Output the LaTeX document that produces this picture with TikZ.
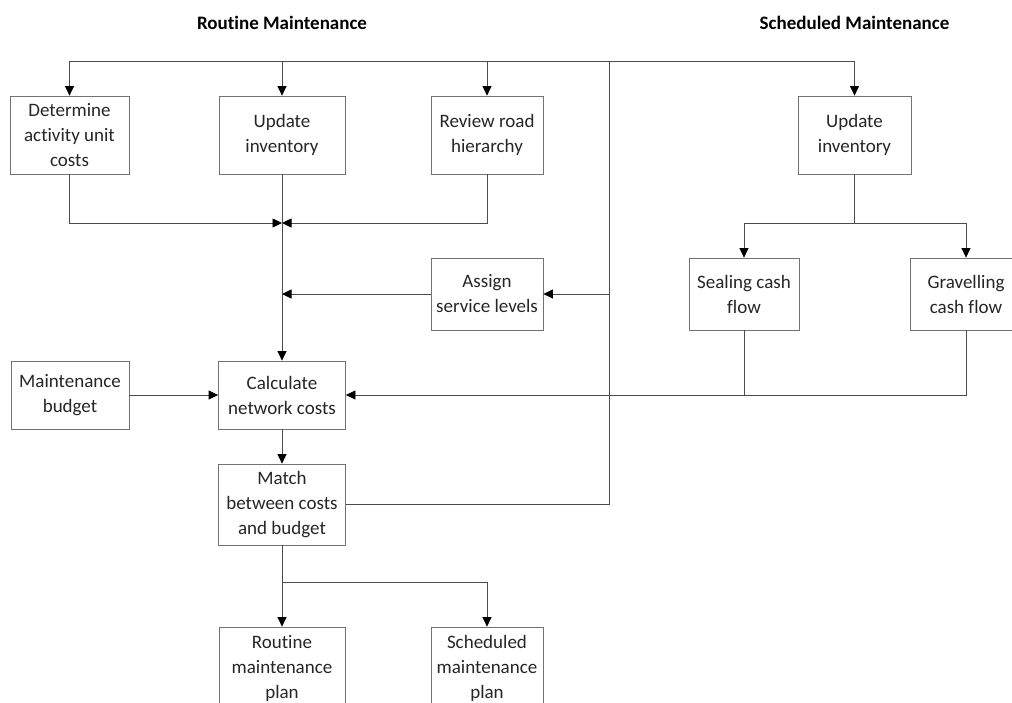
\documentclass[tikz,border=0pt]{standalone}
\usepackage{fontspec}
\setmainfont{Carlito}[Ligatures={TeX,NoCommon}]
\usetikzlibrary{arrows.meta, positioning}

\begin{document}
\begin{tikzpicture}[
        x = 1pt, y = -1pt,
        on grid,
        >= {Triangle[length = 9.5pt, width = 9pt, color = black]},
        box/.style = {draw = black!55, line width = 0.8pt, fill = white, align = center, inner sep = 2pt,
                      text = black!85, font = \fontsize{19}{25}\selectfont},
        title/.style = {font = \fontsize{19}{25}\selectfont\bfseries},
        flow/.style = {draw = black!70, line width = 0.8pt}
    ]
    \clip (0,0) rectangle (1012,702);

    % routine side, top row
    \node[box, minimum width = 119pt, minimum height = 78pt] (det) at (69.5,135) {Determine\\activity unit\\costs};
    \node[box, minimum width = 126pt, minimum height = 78pt] (upd) [right = 212.5pt of det] {Update\\inventory};
    \node[box, minimum width = 112pt, minimum height = 78pt] (rev) [right = 205pt of upd] {Review road\\hierarchy};
    \node[box, minimum width = 113pt, minimum height = 78pt] (supd) [right = 367.5pt of rev] {Update\\inventory};

    \node[title] (t1) [above = 112pt of upd] {Routine Maintenance};
    \node[title] (t2) [above = 112pt of supd] {Scheduled Maintenance};

    % middle rows
    \node[box, minimum width = 112pt, minimum height = 72pt] (asg) [below = 159pt of rev] {Assign\\service levels};
    \node[box, minimum width = 110pt, minimum height = 72pt] (seal) [below left = 159pt and 110.5pt of supd] {Sealing cash\\flow};
    \node[box, minimum width = 112pt, minimum height = 72pt] (grav) [right = 222pt of seal] {Gravelling\\cash flow};
    \node[box, minimum width = 127pt, minimum height = 68pt] (calc) [below = 260pt of upd] {Calculate\\network costs};
    \node[box, minimum width = 118pt, minimum height = 68pt] (bud) [left = 212pt of calc] {Maintenance\\budget};
    \node[box, minimum width = 127pt, minimum height = 81pt] (match) [below = 109.5pt of calc] {Match\\between costs\\and budget};

    % plans
    \node[box, minimum width = 126pt, minimum height = 82pt] (rplan) [below = 163.5pt of match] {Routine\\maintenance\\plan};
    \node[box, minimum width = 112pt, minimum height = 82pt] (splan) [right = 205pt of rplan] {Scheduled\\maintenance\\plan};

    \coordinate (bus) at (609,61);
    \coordinate (mrg) at (282,223);
    \coordinate (spl) at (854.5,223);
    \coordinate (fork) at (282,582);

    % feedback loop
    \draw[flow, ->] (match.east) -| (bus) -| (det.north);
    \draw[flow, ->] (bus) -| (supd.north);
    \draw[flow, ->] (upd.north |- bus) -- (upd.north);
    \draw[flow, ->] (rev.north |- bus) -- (rev.north);
    \draw[flow, ->] (bus |- asg.east) -- (asg.east);

    % routine chain
    \draw[flow, ->] (det.south) |- (mrg);
    \draw[flow, ->] (rev.south) |- (mrg);
    \draw[flow, ->] (upd.south) -- (calc.north);
    \draw[flow, ->] (asg.west) -- (asg.west -| calc.north);
    \draw[flow, ->] (bud.east) -- (calc.west);
    \draw[flow, ->] (calc.south) -- (match.north);

    % scheduled chain
    \draw[flow] (supd.south) -- (spl);
    \draw[flow, ->] (spl) -| (seal.north);
    \draw[flow, ->] (spl) -| (grav.north);
    \draw[flow] (seal.south) -- (seal.south |- calc.east);
    \draw[flow, ->] (grav.south) |- (calc.east);

    % outputs
    \draw[flow] (match.south) -- (fork);
    \draw[flow, ->] (fork) -- (rplan.north);
    \draw[flow, ->] (fork) -| (splan.north);
\end{tikzpicture}
\end{document}
